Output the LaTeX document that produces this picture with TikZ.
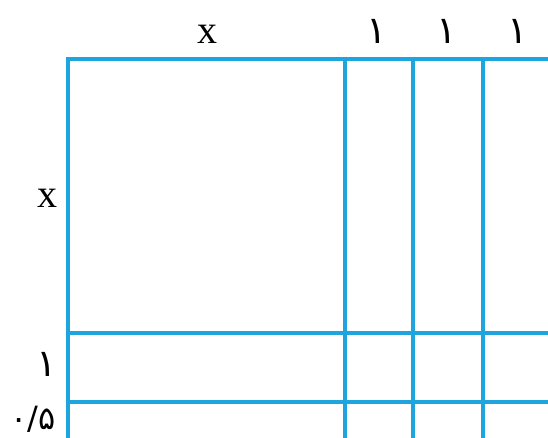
\documentclass[tikz,border=0pt]{standalone}
\usepackage{fontspec}
\setmainfont{Liberation Serif}
\newfontfamily\farsi[Script=Arabic]{DejaVu Sans}
\definecolor{gridblue}{RGB}{30,165,222}
\begin{document}
\begin{tikzpicture}[x=1pt,y=-1pt,
  gridline/.style={draw=gridblue,line width=4pt},
  lat/.style={font=\fontsize{40}{40}\selectfont,inner sep=0pt},
  fa/.style={font=\farsi\fontsize{38}{38}\selectfont,inner sep=0pt},
  fasmall/.style={font=\farsi\fontsize{32}{32}\selectfont,inner sep=0pt}]
\useasboundingbox (0,0) rectangle (548,437);
\begin{scope}
\clip (0,0) rectangle (548,437);
\draw[gridline] (68,440) -- (68,59) -- (552,59);
\foreach \vx in {345,413,483}
  \draw[gridline] (\vx,59) -- (\vx,440);
\foreach \hy in {333,402}
  \draw[gridline] (68,\hy) -- (552,\hy);
\end{scope}
\node[lat] (topx) at (207,34) {x};
\node[fa] (topa) at (377,31) {۱};
\node[fa] (topb) at (447,31) {۱};
\node[fa] (topc) at (518,31) {۱};
\node[lat] (leftx) at (47,198) {x};
\node[fa] (lefta) at (47,364) {۱};
\node[fasmall] (leftb) at (33,419) {۰/۵};
\end{tikzpicture}
\end{document}
